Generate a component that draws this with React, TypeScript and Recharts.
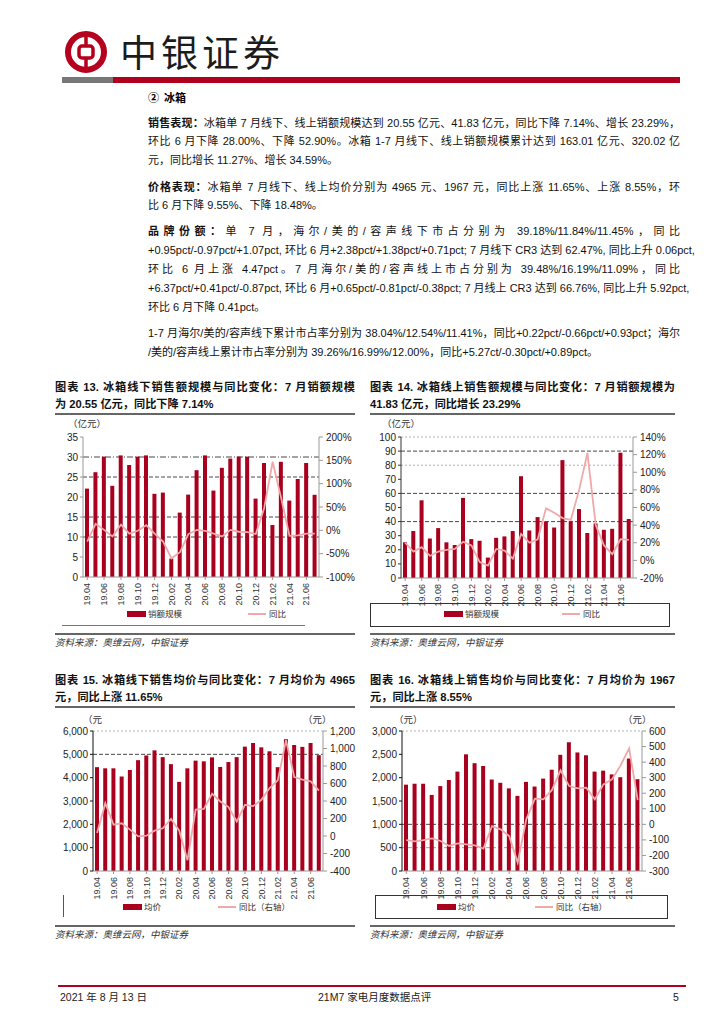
import { ComposedChart, Bar, Line, XAxis, YAxis, CartesianGrid } from 'recharts';

// months 2019.04 - 2021.07
const months = [
  '19.04', '19.05', '19.06', '19.07', '19.08', '19.09', '19.10', '19.11', '19.12',
  '20.01', '20.02', '20.03', '20.04', '20.05', '20.06', '20.07', '20.08', '20.09', '20.10', '20.11', '20.12',
  '21.01', '21.02', '21.03', '21.04', '21.05', '21.06', '21.07',
];

// 图表13 线下销额规模(亿元) / 同比(%)
const offlineSales = [22.1, 26.2, 30.1, 22.8, 30.4, 28.0, 30.1, 30.4, 20.8, 21.1, 4.6, 16.1, 20.6, 26.7, 30.4, 21.6, 27.3, 29.6, 30.1, 30.1, 19.6, 28.5, 13.0, 28.8, 19.1, 24.5, 28.5, 20.55];
const offlineSalesYoY = [-24, 14, 1, -13, 12, -7, -1, 11, -7, -24, -60, -47, -8, 1, -1, -7, -13, 1, -3, -4, -8, 48, 147, 70, -12, -11, -7, -7.14];

// 图表14 线上销额规模(亿元) / 同比(%)
const onlineSales = [25.3, 33.3, 55.1, 28.0, 35.4, 25.3, 23.4, 56.8, 27.6, 26.4, 14.5, 28.5, 29.5, 33.3, 72.2, 33.7, 43.2, 40.1, 35.8, 83.6, 40.1, 48.9, 31.9, 38.7, 34.2, 34.9, 88.8, 41.83];
const onlineSalesYoY = [20, 10, 15, 5, 10, 12, 13, 21, 17, -2, -6, 13, 11, 2, 30, 20, 24, 59, 54, 48, 46, 80, 122, 40, 17, 7, 24, 23.29];

// 图表15 线下均价(元) / 同比(元)
const offlinePrice = [4450, 4400, 4400, 4050, 4330, 4750, 4950, 5170, 4880, 4580, 3820, 4400, 4730, 4700, 4870, 4460, 4670, 4880, 5330, 5490, 5300, 5130, 4450, 5650, 5400, 5320, 5490, 4965];
const offlinePriceYoY = [35, 375, 130, 145, 73, -4, 4, 61, 88, 195, 61, -276, 303, 310, 483, 395, 330, 165, 356, 341, 414, 548, 636, 1096, 674, 644, 624, 518];

// 图表16 线上均价(元) / 同比(元)
const onlinePrice = [1850, 1870, 1870, 1630, 1820, 1950, 2130, 2500, 2310, 2250, 1960, 1890, 1770, 1610, 1910, 1810, 1980, 2170, 2490, 2760, 2540, 2480, 2130, 2150, 2070, 2010, 2410, 1967];
const onlinePriceYoY = [-101, -109, -101, -90, -107, -139, -122, -129, -135, -156, -11, -32, -75, -246, 32, 165, 161, 221, 347, 246, 231, 236, 161, 257, 289, 379, 489, 155];

const ticks13Left = [0, 5, 10, 15, 20, 25, 30, 35];
const ticks13Right = [-100, -50, 0, 50, 100, 150, 200];
const ticks14Left = [0, 10, 20, 30, 40, 50, 60, 70, 80, 90, 100];
const ticks14Right = [-20, 0, 20, 40, 60, 80, 100, 120, 140];
const ticks15Left = [0, 1000, 2000, 3000, 4000, 5000, 6000];
const ticks15Right = [-400, -200, 0, 200, 400, 600, 800, 1000, 1200];
const ticks16Left = [0, 500, 1000, 1500, 2000, 2500, 3000];
const ticks16Right = [-300, -200, -100, 0, 100, 200, 300, 400, 500, 600];

const RED = '#A8001E';
const PINK = '#F0A8A8';
const SANS = '"Liberation Sans", "Noto Sans CJK SC", sans-serif';
const BODY = '"Liberation Sans Narrow", "Liberation Sans", "Noto Sans CJK SC", sans-serif';

const build = (bars: number[], line: number[]) =>
  months.map((m, i) => ({ month: m, bar: bars[i], yoy: line[i] }));

const XTick = ({ x, y, payload }: any) => (
  <text
    x={x}
    y={y + 1}
    transform={`rotate(-90, ${x}, ${y + 1})`}
    textAnchor="end"
    dy="0.35em"
    fontSize={9}
    fill="#333"
    fontFamily={SANS}
  >
    {payload.value}
  </text>
);

interface GridSpec { values: number[]; stroke: string; dash: string }

interface DualProps {
  left: number; top: number; width: number; height: number;
  marginTop: number; leftW: number; rightW: number; xH: number;
  data: any[];
  leftTicks: number[]; rightTicks: number[];
  leftFmt: (v: number) => string; rightFmt: (v: number) => string;
  grids: GridSpec[];
  leftAxisColor: string;
}

function DualChart(p: DualProps) {
  const lt = p.leftTicks, rt = p.rightTicks;
  return (
    <div style={{ position: 'absolute', left: p.left, top: p.top }}>
      <ComposedChart
        width={p.width}
        height={p.height}
        data={p.data}
        margin={{ top: p.marginTop, right: 0, left: 0, bottom: 0 }}
      >
        {p.grids.map((g, i) => (
          <CartesianGrid
            key={i}
            yAxisId="left"
            vertical={false}
            horizontalValues={g.values}
            stroke={g.stroke}
            strokeDasharray={g.dash}
            strokeWidth={0.9}
          />
        ))}
        <XAxis
          dataKey="month"
          interval={1}
          height={p.xH}
          tick={<XTick />}
          tickSize={3}
          stroke="#999"
        />
        <YAxis
          yAxisId="left"
          width={p.leftW}
          domain={[lt[0], lt[lt.length - 1]]}
          ticks={lt}
          interval={0}
          tickFormatter={p.leftFmt}
          tick={{ fontSize: 10, fill: '#222', fontFamily: SANS }}
          tickSize={3}
          tickMargin={2}
          axisLine={{ stroke: p.leftAxisColor }}
          tickLine={{ stroke: p.leftAxisColor }}
        />
        <YAxis
          yAxisId="right"
          orientation="right"
          width={p.rightW}
          domain={[rt[0], rt[rt.length - 1]]}
          ticks={rt}
          interval={0}
          tickFormatter={p.rightFmt}
          tick={{ fontSize: 10, fill: '#222', fontFamily: SANS }}
          tickSize={4}
          tickMargin={3}
          axisLine={{ stroke: '#999' }}
          tickLine={{ stroke: '#999' }}
        />
        <Bar yAxisId="left" dataKey="bar" fill={RED} barSize={4} isAnimationActive={false} />
        <Line
          yAxisId="right"
          dataKey="yoy"
          stroke={PINK}
          strokeWidth={1.8}
          dot={false}
          type="linear"
          isAnimationActive={false}
        />
      </ComposedChart>
    </div>
  );
}

const pct = (v: number) => `${v}%`;
const num = (v: number) => v.toLocaleString('en-US');

const abs = (left: number, top: number, extra: any = {}) => ({ position: 'absolute' as const, left, top, ...extra });

function Line1({ top, children, justify = true, bold }: { top: number; children: any; justify?: boolean; bold?: string }) {
  return (
    <div
      style={abs(148, top - 8, {
        width: 532,
        height: 16,
        lineHeight: '16px',
        fontSize: 11,
        fontFamily: BODY,
        color: '#111',
        whiteSpace: 'nowrap',
        textAlign: justify ? 'justify' : 'left',
        textAlignLast: justify ? 'justify' : 'left',
      })}
    >
      {bold && <b style={{ fontFamily: '"Noto Sans CJK SC", sans-serif' }}>{bold}</b>}
      {children}
    </div>
  );
}

function Title({ left, width, top, l1, l2 }: { left: number; width: number; top: number; l1: string; l2: string }) {
  const st = {
    width,
    fontSize: 11.2,
    fontWeight: 700,
    fontFamily: SANS,
    color: '#111',
    whiteSpace: 'nowrap' as const,
    height: 16,
    lineHeight: '16px',
  };
  return (
    <>
      <div style={abs(left, top - 8, { ...st, textAlign: 'justify', textAlignLast: 'justify' })}>{l1}</div>
      <div style={abs(left, top + 9, st)}>{l2}</div>
      <div style={abs(left, top + 26, { width, height: 1.5, background: '#666' })} />
    </>
  );
}

function LegendRow({ y, rectX, rectLabel, lineX, lineLabel }: { y: number; rectX: number; rectLabel: string; lineX: number; lineLabel: string }) {
  const txt = { fontSize: 8.5, fontFamily: SANS, color: '#333', lineHeight: '12px', whiteSpace: 'nowrap' as const };
  return (
    <>
      <div style={abs(rectX, y - 3, { width: 19, height: 6, background: RED })} />
      <div style={abs(rectX + 21, y - 6, txt)}>{rectLabel}</div>
      <div style={abs(lineX, y - 1, { width: 18, height: 2, background: PINK })} />
      <div style={abs(lineX + 21, y - 6, txt)}>{lineLabel}</div>
    </>
  );
}

function Source({ left, y, width }: { left: number; y: number; width: number }) {
  return (
    <>
      <div style={abs(left, y - 9, { width, height: 1.5, background: '#666' })} />
      <div
        style={abs(left, y - 6, {
          fontSize: 9.5,
          fontStyle: 'italic',
          fontFamily: '"Noto Sans CJK SC", sans-serif',
          color: '#333',
          lineHeight: '12px',
          whiteSpace: 'nowrap',
        })}
      >
        资料来源：奥维云网，中银证券
      </div>
    </>
  );
}

const unitStyle = { fontSize: 9.5, fontFamily: '"Noto Sans CJK SC", sans-serif', color: '#333', lineHeight: '12px', whiteSpace: 'nowrap' as const };

export default function App() {
  return (
    <div style={{ position: 'absolute', left: 0, top: 0, width: 724, height: 1024, background: '#fff', overflow: 'hidden' }}>
      {/* header */}
      <svg width={46} height={46} style={abs(63, 29)}>
        <circle cx={23} cy={23} r={18} fill="none" stroke="#B5001E" strokeWidth={6} />
        <rect x={16} y={17} width={14} height={12} rx={3} fill="none" stroke="#B5001E" strokeWidth={3.5} />
        <line x1={23} y1={6} x2={23} y2={17} stroke="#B5001E" strokeWidth={3.5} />
        <line x1={23} y1={29} x2={23} y2={40} stroke="#B5001E" strokeWidth={3.5} />
      </svg>
      <div
        style={abs(120, 28, {
          fontSize: 37,
          letterSpacing: 4,
          lineHeight: '46px',
          fontFamily: '"Noto Sans CJK SC", sans-serif',
          color: '#1c1c1c',
          whiteSpace: 'nowrap',
        })}
      >
        中银证券
      </div>
      <div style={abs(62, 77, { width: 51, height: 6, background: '#777' })} />
      <div style={abs(113, 77, { width: 567, height: 6, background: '#B0001E' })} />

      {/* body text */}
      <div style={abs(148, 89, { fontSize: 11, fontWeight: 700, fontFamily: '"Noto Sans CJK SC", sans-serif', lineHeight: '16px' })}>
        ②&nbsp;&nbsp;冰箱
      </div>
      <Line1 top={122} bold="销售表现：">冰箱单 7 月线下、线上销额规模达到 20.55 亿元、41.83 亿元，同比下降 7.14%、增长 23.29%，</Line1>
      <Line1 top={141}>环比 6 月下降 28.00%、下降 52.90%。冰箱 1-7 月线下、线上销额规模累计达到 163.01 亿元、320.02 亿</Line1>
      <Line1 top={160} justify={false}>元，同比增长 11.27%、增长 34.59%。</Line1>
      <Line1 top={186} bold="价格表现：">冰箱单 7 月线下、线上均价分别为 4965 元、1967 元，同比上涨 11.65%、上涨 8.55%，环</Line1>
      <Line1 top={205} justify={false}>比 6 月下降 9.55%、下降 18.48%。</Line1>
      <Line1 top={230} bold="品牌份额：">单 7 月，海尔/美的/容声线下市占分别为 39.18%/11.84%/11.45%，同比</Line1>
      <Line1 top={250}>+0.95pct/-0.97pct/+1.07pct, 环比 6 月+2.38pct/+1.38pct/+0.71pct; 7 月线下 CR3 达到 62.47%, 同比上升 0.06pct,</Line1>
      <Line1 top={269}>环比 6 月上涨 4.47pct。7 月海尔/美的/容声线上市占分别为 39.48%/16.19%/11.09%，同比</Line1>
      <Line1 top={288}>+6.37pct/+0.41pct/-0.87pct, 环比 6 月+0.65pct/-0.81pct/-0.38pct; 7 月线上 CR3 达到 66.76%, 同比上升 5.92pct,</Line1>
      <Line1 top={307} justify={false}>环比 6 月下降 0.41pct。</Line1>
      <Line1 top={333}>1-7 月海尔/美的/容声线下累计市占率分别为 38.04%/12.54%/11.41%，同比+0.22pct/-0.66pct/+0.93pct；海尔</Line1>
      <Line1 top={352} justify={false}>/美的/容声线上累计市占率分别为 39.26%/16.99%/12.00%，同比+5.27ct/-0.30pct/+0.89pct。</Line1>

      {/* chart 13 */}
      <Title left={55} width={300} top={387} l1="图表 13. 冰箱线下销售额规模与同比变化：7 月销额规模" l2="为 20.55 亿元，同比下降 7.14%" />
      <div style={abs(68, 417, unitStyle)}>（亿元）</div>
      <DualChart
        left={50} top={420} width={310} height={191} marginTop={17} leftW={33} rightW={41} xH={34}
        data={build(offlineSales, offlineSalesYoY)}
        leftTicks={ticks13Left} rightTicks={ticks13Right} leftFmt={String} rightFmt={pct}
        leftAxisColor="#999"
        grids={[
          { values: [30], stroke: '#333', dash: '6 2 1 2' },
          { values: [25, 15, 10], stroke: '#333', dash: '4 2' },
        ]}
      />
      <LegendRow y={614} rectX={127} rectLabel="销额规模" lineX={248} lineLabel="同比" />
      <div style={abs(62, 625, { width: 243, height: 1, background: '#777' })} />
      <Source left={55} y={642} width={300} />

      {/* chart 14 */}
      <Title left={370} width={305} top={387} l1="图表 14. 冰箱线上销售额规模与同比变化：7 月销额规模为" l2="41.83 亿元，同比增长 23.29%" />
      <div style={abs(382, 417, unitStyle)}>（亿元）</div>
      <DualChart
        left={365} top={420} width={310} height={192} marginTop={17} leftW={36} rightW={42} xH={34}
        data={build(onlineSales, onlineSalesYoY)}
        leftTicks={ticks14Left} rightTicks={ticks14Right} leftFmt={String} rightFmt={pct}
        leftAxisColor="#333"
        grids={[
          { values: [100, 80], stroke: '#aaa', dash: '2 2' },
          { values: [90, 60, 40], stroke: '#333', dash: '4 2' },
        ]}
      />
      <div style={abs(370, 603, { width: 300, height: 24, border: '1px solid #333', boxSizing: 'border-box' })} />
      <LegendRow y={614} rectX={444} rectLabel="销额规模" lineX={562} lineLabel="同比" />
      <Source left={370} y={642} width={305} />

      {/* chart 15 */}
      <Title left={55} width={300} top={680} l1="图表 15. 冰箱线下销售均价与同比变化：7 月均价为 4965" l2="元，同比上涨 11.65%" />
      <div style={abs(83, 713, unitStyle)}>（元</div>
      <div style={abs(303, 713, unitStyle)}>（元）</div>
      <DualChart
        left={50} top={715} width={310} height={191} marginTop={16} leftW={43} rightW={37} xH={35}
        data={build(offlinePrice, offlinePriceYoY)}
        leftTicks={ticks15Left} rightTicks={ticks15Right} leftFmt={num} rightFmt={num}
        leftAxisColor="#111"
        grids={[
          { values: [6000], stroke: '#aaa', dash: '2 2' },
          { values: [5000], stroke: '#333', dash: '4 2' },
        ]}
      />
      <div style={abs(63, 895, { width: 1, height: 22, background: '#555' })} />
      <LegendRow y={907} rectX={123} rectLabel="均价" lineX={218} lineLabel="同比（右轴）" />
      <Source left={55} y={934} width={300} />

      {/* chart 16 */}
      <Title left={370} width={305} top={680} l1="图表 16. 冰箱线上销售均价与同比变化：7 月均价为 1967" l2="元，同比上涨 8.55%" />
      <div style={abs(394, 713, unitStyle)}>（元）</div>
      <div style={abs(623, 713, unitStyle)}>（元）</div>
      <DualChart
        left={365} top={715} width={310} height={191} marginTop={16} leftW={37} rightW={33} xH={35}
        data={build(onlinePrice, onlinePriceYoY)}
        leftTicks={ticks16Left} rightTicks={ticks16Right} leftFmt={num} rightFmt={String}
        leftAxisColor="#111"
        grids={[
          { values: [3000], stroke: '#aaa', dash: '2 2' },
          { values: [1000], stroke: '#333', dash: '4 2' },
          { values: [500], stroke: '#999', dash: '4 2' },
        ]}
      />
      <div style={abs(375, 895, { width: 293, height: 24, border: '1px solid #333', boxSizing: 'border-box' })} />
      <LegendRow y={907} rectX={437} rectLabel="均价" lineX={535} lineLabel="同比（右轴）" />
      <Source left={370} y={934} width={305} />

      {/* footer */}
      <div style={abs(58, 985, { width: 628, height: 1.5, background: '#B0001E' })} />
      <div style={abs(60, 991, { fontSize: 10.5, fontFamily: BODY, color: '#222', lineHeight: '13px', whiteSpace: 'nowrap' })}>2021 年 8 月 13 日</div>
      <div style={abs(318, 991, { fontSize: 10.5, fontFamily: BODY, color: '#222', lineHeight: '13px', whiteSpace: 'nowrap' })}>21M7 家电月度数据点评</div>
      <div style={abs(673, 991, { fontSize: 10.5, fontFamily: BODY, color: '#222', lineHeight: '13px' })}>5</div>
    </div>
  );
}
